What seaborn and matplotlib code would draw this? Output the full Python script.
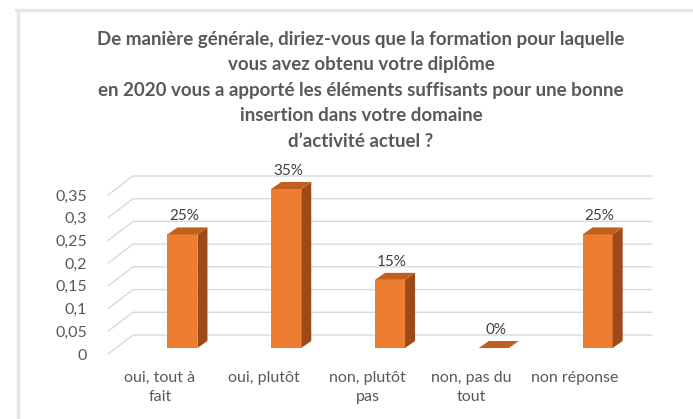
import matplotlib
matplotlib.use('Agg')
import matplotlib.pyplot as plt
from matplotlib.patches import Polygon
from matplotlib.lines import Line2D
import seaborn as sns

# --- data ---
categories = ['oui, tout à\nfait', 'oui, plutôt', 'non, plutôt\npas', 'non, pas du\ntout', 'non réponse']
values = [0.25, 0.35, 0.15, 0.0, 0.25]
value_labels = ['25%', '35%', '15%', '0%', '25%']
y_ticks = [0, 0.05, 0.1, 0.15, 0.2, 0.25, 0.3, 0.35]
y_tick_labels = ['0', '0,05', '0,1', '0,15', '0,2', '0,25', '0,3', '0,35']
title = ("De manière générale, diriez-vous que la formation pour laquelle\n"
         "vous avez obtenu votre diplôme\n"
         "en 2020 vous a apporté les éléments suffisants pour une bonne\n"
         "insertion dans votre domaine\n"
         "d\u2019activité actuel ?")

FRONT = '#ED7D31'
SIDE = '#9C4A17'
TOP = '#C25F1F'
GRID = '#D9D9D9'
TXT = '#595959'

sns.set_theme(style='white')
plt.rcParams['font.family'] = ['Lato', 'DejaVu Sans']

W, H = 693, 419
fig = plt.figure(figsize=(W / 100, H / 100), dpi=100)
fig.patch.set_facecolor('white')

# axes = front edge of the 3D floor (pixels measured on the reference)
left_px, right_px, zero_px, top_px = 108, 627, 354, 195
ax = fig.add_axes([left_px / W, (H - zero_px) / H,
                   (right_px - left_px) / W, (zero_px - top_px) / H])

sns.barplot(x=categories, y=values, color=FRONT, width=0.29, saturation=1, ax=ax, zorder=3)
ax.set_xlim(-0.5, 4.5)
ax.set_ylim(0, 0.35)

# pixel -> data conversion
px_x = 5 / (right_px - left_px)          # data units per px (x)
px_y = 0.35 / (zero_px - top_px)         # data units per px (y)

# back wall gridlines (oblique 3D look)
back_dx, back_dy = 25 * px_x, 19 * px_y
for v in y_ticks:
    ax.add_line(Line2D([-0.5, -0.5 + back_dx, 4.5 + back_dx], [v, v + back_dy, v + back_dy],
                       color=GRID, lw=1.0, clip_on=False, zorder=1))

# shift bars back into the depth and add side / top faces
bar_dx, bar_dy = 22.5 * px_x, 6 * px_y
dep_x, dep_y = 10 * px_x, 7 * px_y
for p, lab in zip(ax.patches, value_labels):
    p.set_x(p.get_x() + bar_dx)
    p.set_y(bar_dy)
    p.set_clip_on(False)
    p.set_edgecolor('none')
    x0, w, h = p.get_x(), p.get_width(), p.get_height()
    x1, y0, y1 = x0 + w, bar_dy, bar_dy + h
    if h > 0:
        ax.add_patch(Polygon([(x1, y0), (x1, y1), (x1 + dep_x, y1 + dep_y), (x1 + dep_x, y0 + dep_y)],
                             closed=True, facecolor=SIDE, edgecolor='none', zorder=3, clip_on=False))
    ax.add_patch(Polygon([(x0, y1), (x1, y1), (x1 + dep_x, y1 + dep_y), (x0 + dep_x, y1 + dep_y)],
                         closed=True, facecolor=TOP, edgecolor='none', zorder=4, clip_on=False))
    ax.text(x0 + w / 2 + 2 * px_x, y1 + 18 * px_y, lab, ha='center', va='center',
            fontsize=11, color='#404040', clip_on=False)

# axes styling
sns.despine(ax=ax, left=True, bottom=True)
ax.set_yticks(y_ticks)
ax.set_yticklabels(y_tick_labels)
ax.tick_params(axis='y', length=0, pad=15, labelsize=11.5, labelcolor=TXT)
ax.tick_params(axis='x', length=0, pad=12, labelsize=11.5, labelcolor=TXT)
for t in ax.get_xticklabels():
    t.set_linespacing(1.45)
ax.set_facecolor('none')
ax.grid(False)

# title
fig.text(361 / W, 1 - 31 / H, title, ha='center', va='top', fontsize=13.5,
         fontweight='bold', color=TXT, linespacing=1.6)

# chart frame (light grey border at top and left)
fig.add_artist(Line2D([17.5 / W, 17.5 / W], [0, 1 - 10 / H], transform=fig.transFigure,
                      color='#E6E6E6', lw=2.5))
fig.add_artist(Line2D([16 / W, 1], [1 - 10 / H, 1 - 10 / H], transform=fig.transFigure,
                      color='#E6E6E6', lw=2.5))

fig.savefig('out.png', dpi=100, facecolor='white')
